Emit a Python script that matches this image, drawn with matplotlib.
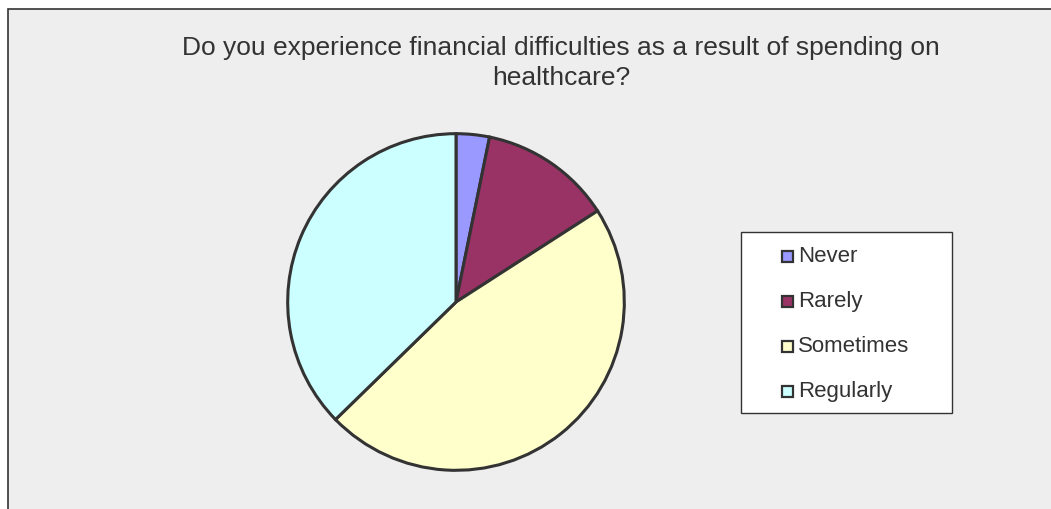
import matplotlib.pyplot as plt
from matplotlib.patches import Rectangle

# answers and their share of responses (%)
labels = ["Never", "Rarely", "Sometimes", "Regularly"]
shares = [3.2, 12.7, 46.8, 37.3]
colors = ["#9999FF", "#993366", "#FFFFCC", "#CCFFFF"]

W, H = 1051, 509
fig = plt.figure(figsize=(W / 100, H / 100), dpi=100)
fig.patch.set_facecolor("white")
plt.rcParams["font.family"] = ["Liberation Sans", "DejaVu Sans"]


def px(x, y):
    # pixel position (from top-left) -> figure fraction
    return x / W, 1 - y / H


# grey chart area with a dark border (runs off the right and bottom edges)
fig.patches.append(Rectangle((8 / W, -0.1), 1.2, (H - 9) / H + 0.1,
                             transform=fig.transFigure, facecolor="#EEEEEE",
                             edgecolor="#333333", linewidth=1.2, zorder=-5))

fig.text(*px(561, 63), "Do you experience financial difficulties as a result of spending on\nhealthcare?",
         ha="center", va="center", fontsize=19, color="#333333", linespacing=1.3)

r = 170
ax = fig.add_axes([(456 - r) / W, (H - 302 - r) / H, 2 * r / W, 2 * r / H])
ax.patch.set_alpha(0)
wedges, _ = ax.pie(shares, colors=colors, startangle=90, counterclock=False,
                   radius=1, wedgeprops=dict(edgecolor="#333333", linewidth=2.2))
ax.set_xlim(-1.01, 1.01)
ax.set_ylim(-1.01, 1.01)
ax.set_aspect("equal")
ax.axis("off")

# legend box
x0, y0 = px(741, 413)
fig.patches.append(Rectangle((x0, y0), 211 / W, 181 / H, transform=fig.transFigure,
                             facecolor="white", edgecolor="#333333", linewidth=1))
for i, (lab, col) in enumerate(zip(labels, colors)):
    yc = 256 + 45 * i
    fig.patches.append(Rectangle(px(782, yc + 6), 11 / W, 11 / H, transform=fig.transFigure,
                                 facecolor=col, edgecolor="#333333", linewidth=1.6))
    fig.text(*px(798, yc), lab, ha="left", va="center", fontsize=16, color="#333333")

fig.savefig("out.png", dpi=100, facecolor="white")
